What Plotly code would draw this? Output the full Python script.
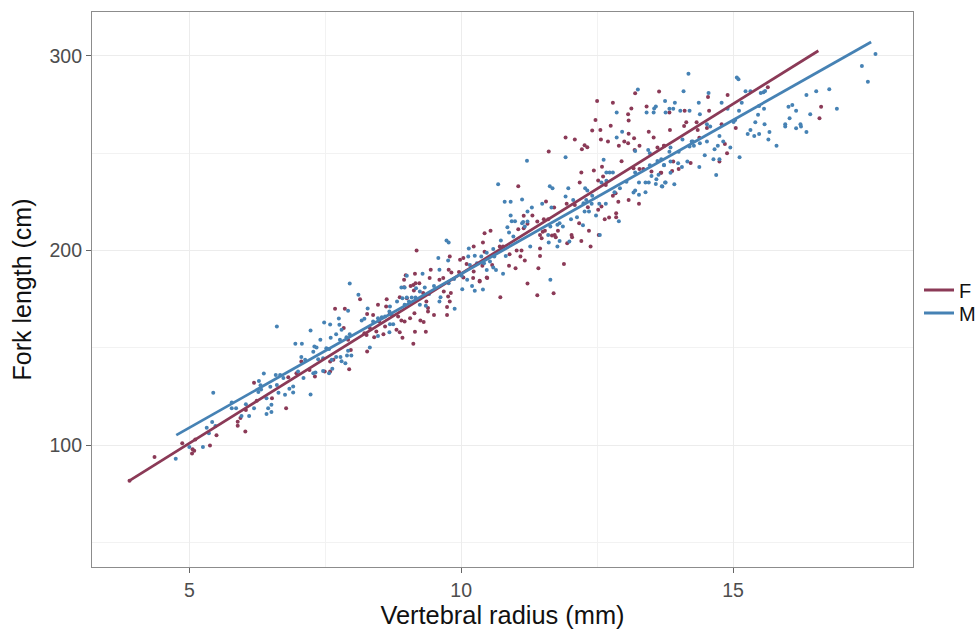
import plotly.graph_objects as go

f_x = [3.90,4.36,4.87,5.06,5.09,5.05,5.11,5.38,5.50,5.89,5.89,5.94,6.03,6.04,6.19,6.24,6.52,6.78,
6.82,6.97,7.06,7.21,7.31,7.49,7.59,7.59,7.65,7.94,7.97,8.27,7.92,7.84,7.68,7.86,8.14,8.27,8.38,8.47,8.63,8.62,8.69,8.60,8.44,8.32,8.40,8.57,8.26,8.22,8.49,8.81,8.87,9.15,9.35,8.92,9.12,9.18,8.84,8.90,8.96,9.06,9.14,9.25,9.31,9.39,9.39,9.50,9.74,9.74,9.79,9.76,9.81,9.68,9.36,9.30,9.13,9.12,9.07,9.16,9.23,9.15,8.95,8.98,8.95,8.87,9.00,9.42,9.44,9.60,9.67,9.77,9.82,9.79,9.98,10.04,10.23,10.10,9.96,10.04,10.22,10.23,10.34,10.48,
10.43,10.54,10.40,10.71,10.77,10.43,10.89,11.02,11.11,11.09,11.17,10.88,11.00,10.57,10.39,10.47,10.34,10.72,11.22,11.40,11.70,11.89,11.42,11.45,11.45,11.05,11.61,11.15,11.15,11.22,11.31,11.05,11.40,11.52,11.60,11.56,11.71,11.45,11.50,11.54,11.48,11.67,11.72,11.78,11.74,11.95,12.03,12.04,12.21,12.38,12.35,12.53,12.17,11.94,12.09,12.33,12.18,12.21,12.52,12.44,12.61,12.59,11.92,12.09,12.22,12.27,12.32,12.41,12.56,12.57,12.70,12.75,12.47,12.50,12.79,13.07,13.08,13.13,13.41,13.08,13.18,13.00,13.07,12.90,13.28,13.19,13.45,13.54,12.95,13.17,13.28,13.35,13.50,13.61,13.73,13.68,12.66,12.89,12.79,12.84,13.08,13.27,12.72,12.85,12.85,12.64,12.52,12.58,
13.20,13.64,13.83,14.11,14.56,14.54,14.90,15.64,16.62,16.59,13.84,14.10,14.14,14.33,14.35,14.52,14.79,15.05,13.73,14.38,14.85,14.89,14.75,14.22,13.90,13.88,14.00,13.67]
f_y = [81.7,93.8,100.9,97.8,97.1,95.7,102.9,99.8,105.0,112.0,109.9,113.9,106.9,118.0,132.0,122.8,124.0,118.9,
134.9,136.9,142.9,138.6,135.2,137.8,137.8,142.9,143.8,139.0,148.9,148.1,154.1,160.1,170.0,170.0,175.0,167.4,166.9,172.1,175.0,171.2,167.8,160.9,158.4,160.1,155.4,157.0,156.6,157.5,163.5,159.2,158.0,158.2,158.2,155.1,152.0,200.0,166.1,164.0,163.5,165.2,167.8,164.0,163.2,170.4,168.6,166.9,166.9,170.9,173.8,176.3,178.1,178.9,173.8,178.1,179.4,182.3,181.8,183.2,183.2,188.0,184.9,187.3,181.1,176.0,175.5,185.8,190.1,184.9,185.8,190.1,188.7,196.9,195.2,196.1,202.0,193.1,189.0,186.1,185.8,189.2,184.4,185.8,
208.9,210.1,204.1,202.0,202.0,199.4,198.1,200.0,200.0,196.9,194.8,192.1,190.9,192.6,192.2,186.1,184.0,176.0,183.0,177.0,178.0,193.1,190.9,197.2,201.0,233.0,250.9,217.8,211.4,213.7,218.0,210.9,214.9,216.1,216.1,225.2,222.1,208.0,209.7,210.2,206.3,207.7,208.0,210.1,206.8,203.7,208.0,206.8,204.9,202.0,210.1,208.0,214.0,224.0,223.4,222.2,234.9,240.1,236.0,241.1,238.0,243.1,258.1,257.0,252.1,254.1,253.1,261.7,262.0,257.0,256.0,264.1,267.1,276.9,276.0,270.0,266.8,273.0,274.0,260.0,257.7,256.0,255.1,253.9,253.9,251.7,261.0,258.1,245.9,242.3,241.9,241.9,240.6,252.9,253.8,240.0,233.7,225.1,228.1,229.4,226.0,224.0,216.9,219.2,217.1,216.1,220.9,222.6,
280.8,281.7,270.9,271.9,271.9,278.9,279.9,283.9,273.9,268.0,262.0,264.0,265.9,265.9,262.0,263.0,264.9,263.0,253.9,258.0,254.8,250.0,245.8,245.0,245.8,240.9,241.9,240.0]

m_x = [4.75,5.00,5.25,5.44,5.42,5.32,5.36,5.48,5.78,5.78,5.86,5.96,6.04,6.10,6.19,6.28,6.31,6.37,6.27,6.32,6.42,6.45,6.51,6.51,6.42,6.49,6.59,6.61,6.64,6.67,
6.61,6.95,7.07,7.23,7.48,7.59,7.75,7.76,7.80,7.70,7.60,7.41,7.30,7.34,7.28,7.52,7.57,7.06,7.13,7.37,7.46,7.92,7.95,8.11,8.28,8.17,8.22,7.95,7.89,7.77,7.92,7.98,7.90,7.62,7.70,7.78,7.80,7.87,7.63,7.57,7.46,7.28,7.32,7.10,6.91,6.84,6.76,6.91,7.23,7.00,6.73,8.32,8.47,8.68,8.75,8.69,8.38,8.47,8.54,8.60,8.69,8.68,8.72,8.82,8.92,9.00,9.09,9.16,8.96,9.04,9.24,9.35,9.62,9.60,9.88,9.41,9.24,9.33,9.17,8.90,8.96,9.00,9.29,9.58,9.60,9.76,9.73,9.77,9.50,9.77,10.02,10.11,10.20,10.25,10.14,10.13,10.16,10.25,10.29,9.87,10.01,
11.21,10.68,10.80,10.91,11.12,11.30,11.22,10.91,10.93,10.99,11.14,11.22,11.12,11.17,10.85,10.88,10.96,10.73,10.59,10.47,10.37,10.61,10.82,10.47,10.42,10.53,10.59,10.64,10.77,10.40,11.64,11.27,11.61,11.77,11.81,11.99,11.49,11.66,11.63,11.68,11.92,11.97,11.92,12.06,12.28,12.32,12.41,12.30,12.25,12.40,12.27,12.35,12.48,12.66,12.54,12.13,12.02,12.24,11.87,11.81,11.77,11.60,11.64,12.90,12.55,12.62,12.58,12.67,12.67,12.73,12.79,12.86,12.96,12.86,13.41,13.54,13.55,13.58,13.20,13.47,13.44,13.47,13.20,13.04,12.92,12.82,13.20,13.17,13.27,13.39,13.39,13.45,13.27,13.50,13.63,13.59,13.58,13.70,13.76,13.61,13.73,13.25,
14.18,15.07,15.10,14.09,14.55,15.23,15.32,15.51,15.56,15.59,13.75,13.93,14.37,14.79,13.83,13.90,13.76,14.03,14.20,14.39,14.90,15.11,15.16,15.48,15.57,16.35,16.53,16.77,16.91,16.09,16.02,16.16,16.42,16.04,15.96,15.96,16.16,16.24,16.25,16.35,15.80,15.65,15.67,15.58,15.41,15.46,15.32,15.27,15.39,15.48,17.37,17.48,17.62,15.04,15.01,14.75,14.52,14.58,14.52,14.39,14.28,14.24,14.20,14.07,13.85,13.83,14.00,14.72,14.66,14.82,14.95,14.48,14.64,14.75,15.12,14.69,14.38,14.16,14.06,13.99,13.85,13.73,13.68,13.85,13.92,13.75,13.69,14.26]
m_y = [93.0,99.0,99.0,126.9,111.8,108.9,106.0,109.8,121.8,118.9,118.9,114.9,120.9,114.9,118.9,132.9,130.7,136.8,127.2,128.6,124.0,118.9,120.7,117.0,115.9,130.0,136.0,130.8,126.9,136.0,
160.9,152.0,152.0,158.9,163.0,162.0,165.0,161.8,159.2,157.0,155.1,154.1,150.6,150.1,147.9,149.8,149.3,145.2,143.8,144.1,144.6,169.0,183.0,177.2,170.2,164.0,164.9,157.0,155.4,154.1,148.4,146.0,146.0,143.8,145.2,145.2,143.1,142.1,139.2,136.9,138.0,136.9,137.3,134.4,130.1,128.9,125.8,127.0,126.0,137.8,134.4,150.1,156.1,158.0,162.1,162.1,163.5,165.2,165.7,166.1,171.2,168.6,166.9,173.8,175.5,175.8,175.8,175.8,172.1,173.8,172.1,171.6,176.0,173.8,170.0,177.7,178.9,181.0,180.6,181.0,181.0,187.0,188.0,196.1,190.1,194.9,205.1,204.1,181.8,183.2,180.1,184.9,181.8,179.3,201.0,196.9,192.6,197.3,193.5,185.4,187.0,
246.1,234.1,225.0,225.0,226.2,222.1,220.0,218.0,215.0,215.0,214.7,214.9,214.0,212.3,212.0,209.2,207.2,205.1,200.8,198.9,196.9,196.9,197.2,190.0,193.4,194.3,191.2,190.0,188.0,180.0,184.9,202.0,204.1,202.0,204.9,204.6,224.0,222.1,233.0,232.0,247.9,232.0,227.7,226.0,232.0,230.8,228.1,226.0,224.3,224.0,220.0,220.0,218.0,224.0,224.0,217.1,216.1,213.0,212.3,214.0,213.2,208.0,212.3,215.0,208.0,246.6,234.9,235.8,240.1,240.1,240.1,258.1,261.0,270.9,270.9,270.9,273.0,274.0,251.2,250.0,251.7,243.8,240.1,235.4,232.0,230.0,230.8,229.8,228.7,229.9,234.9,234.9,234.9,238.3,238.9,236.6,234.2,232.9,234.9,246.0,243.8,282.7,
290.9,288.9,288.0,281.8,281.0,281.8,281.8,281.0,281.3,282.0,276.9,276.0,276.0,276.0,272.9,272.9,270.9,271.9,271.9,270.0,272.9,271.9,276.0,274.3,272.9,279.9,281.8,282.9,272.9,274.8,273.9,271.9,270.0,268.0,264.9,263.8,262.8,264.9,263.8,260.9,253.9,257.0,260.9,264.9,265.9,269.8,262.0,259.9,258.9,259.9,294.9,286.8,301.0,267.1,266.1,258.9,264.9,263.8,256.0,255.1,253.9,256.0,253.4,257.0,252.9,250.8,250.8,253.9,252.0,256.0,253.0,248.9,246.9,246.9,247.9,238.8,242.9,245.8,242.9,244.8,245.8,244.0,246.9,240.0,234.0,234.9,233.0,256.0]

f_line_x = [3.90, 16.57]
f_line_y = [81.7, 302.7]
m_line_x = [4.76, 17.54]
m_line_y = [105.1, 307.2]

F_COL = "#8b3a57"
M_COL = "#4682b4"
FONT = "Liberation Sans"
W, H = 976, 630
PLOT_W = 919

fig = go.Figure()
fig.add_trace(go.Scatter(x=f_x, y=f_y, mode="markers", showlegend=False,
                         marker=dict(color=F_COL, size=4)))
fig.add_trace(go.Scatter(x=m_x, y=m_y, mode="markers", showlegend=False,
                         marker=dict(color=M_COL, size=4)))
fig.add_trace(go.Scatter(x=f_line_x, y=f_line_y, mode="lines", name="F", legend="legend",
                         line=dict(color=F_COL, width=2.8)))
fig.add_trace(go.Scatter(x=m_line_x, y=m_line_y, mode="lines", name="M", legend="legend2",
                         line=dict(color=M_COL, width=2.8)))

axis = dict(showline=True, mirror=True, linecolor="#8c8c8c", linewidth=1.2,
            ticks="outside", ticklen=5, tickcolor="#666666", tickwidth=1.2,
            tickfont=dict(family=FONT, size=19.5, color="#4d4d4d"), automargin=False,
            showgrid=True, gridcolor="#ececec", gridwidth=1.2, zeroline=False)

fig.update_xaxes(**axis, range=[3.21, 18.31], tickvals=[5, 10, 15],
                 domain=[92 / PLOT_W, 913 / PLOT_W],
                 minor=dict(tickvals=[7.5, 12.5], showgrid=True, gridcolor="#f2f2f2",
                            gridwidth=1, ticks=""),
                 title=dict(text="Vertebral radius (mm)", standoff=6,
                            font=dict(family=FONT, size=25.4, color="#111111")))
fig.update_yaxes(**axis, range=[37.3, 322.6], tickvals=[100, 200, 300],
                 domain=[(H - 567) / H, (H - 12) / H],
                 minor=dict(tickvals=[50, 150, 250], showgrid=True, gridcolor="#f2f2f2",
                            gridwidth=1, ticks=""),
                 title=dict(text="Fork length (cm)", standoff=10,
                            font=dict(family=FONT, size=25, color="#111111")))

legend_common = dict(xanchor="left", yanchor="middle", itemwidth=30,
                     xref="container", yref="container",
                     font=dict(family=FONT, size=20, color="#111111"),
                     bgcolor="rgba(0,0,0,0)")
fig.update_layout(width=W, height=H, paper_bgcolor="white", plot_bgcolor="white",
                  margin=dict(l=0, r=0, t=0, b=0),
                  legend=dict(x=919 / W, y=1 - 290 / H, **legend_common),
                  legend2=dict(x=919 / W, y=1 - 313 / H, **legend_common))

fig.write_html("out.html", post_script="document.body.style.margin='0';",
               config={"displayModeBar": False})
